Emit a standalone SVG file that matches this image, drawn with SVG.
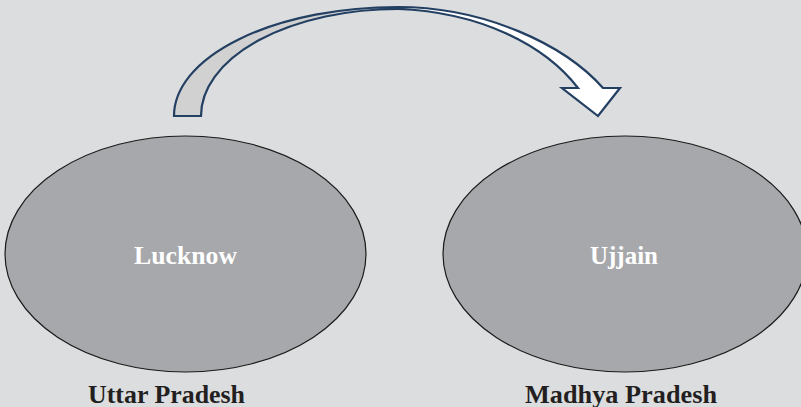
<svg xmlns="http://www.w3.org/2000/svg" width="801" height="407" viewBox="0 0 801 407">
  <style>
    .node ellipse { fill: #a7a8ab; stroke: #1a1a1a; stroke-width: 1.2; }
    .inner { font-family: "Liberation Serif", "Times New Roman", serif; font-weight: bold; font-size: 25px; fill: #ffffff; text-anchor: middle; }
    .label { font-family: "Liberation Serif", "Times New Roman", serif; font-weight: bold; font-size: 25px; fill: #231f20; text-anchor: middle; }
    .arrow path { stroke: #233f62; stroke-width: 2.2; stroke-linejoin: miter; }
  </style>
  <rect x="0" y="0" width="801" height="407" fill="#dcdddf"/>

  <g id="connectors" class="arrow">
    <path d="M174,116 A224,109 0 0 1 398,7 L398,9 A197,107 0 0 0 201,116 Z" fill="#d1d1d2"/>
    <path d="M398,7 C485,7 565,45 603,88 L620,88 L598,116 L562,88 L578,88 C545,45 480,12 398,9 Z" fill="#ffffff"/>
  </g>

  <g id="node-lucknow" class="node">
    <ellipse cx="185.5" cy="254" rx="180.5" ry="118"/>
    <text class="inner" x="185.5" y="263.5" textLength="103" lengthAdjust="spacingAndGlyphs">Lucknow</text>
  </g>

  <g id="node-ujjain" class="node">
    <ellipse cx="625" cy="254" rx="182" ry="118"/>
    <text class="inner" x="624" y="264" textLength="68" lengthAdjust="spacingAndGlyphs">Ujjain</text>
  </g>

  <g id="label-up">
    <text class="label" x="166.5" y="403" textLength="157" lengthAdjust="spacingAndGlyphs">Uttar Pradesh</text>
  </g>
  <g id="label-mp">
    <text class="label" x="621" y="403" textLength="192" lengthAdjust="spacingAndGlyphs">Madhya Pradesh</text>
  </g>
</svg>
